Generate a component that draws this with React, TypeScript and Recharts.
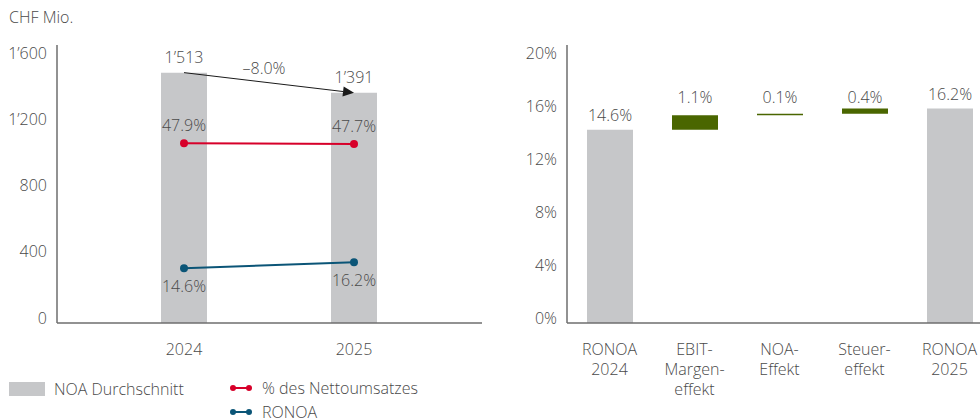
import React from 'react';
import { ComposedChart, BarChart, Bar, Line, XAxis, YAxis, LabelList, ReferenceLine } from 'recharts';

const years = ['2024', '2025'];
const noaAverage = [1513, 1391];
const netSalesShare = [47.9, 47.7];
const ronoa = [14.6, 16.2];
const noaChangeLabel = '–8.0%';
const leftTicks = [0, 400, 800, 1200, 1600];

const bridgeCategories = ['RONOA 2024', 'EBIT- Margen- effekt', 'NOA- Effekt', 'Steuer- effekt', 'RONOA 2025'];
const bridgeValues = [14.6, 1.1, 0.1, 0.4, 16.2];
const bridgeIsTotal = [true, false, false, false, true];
const rightTicks = [0, 4, 8, 12, 16, 20];

const FONT = '"Open Sans", sans-serif';
const FS = 16;
const FW = 300;
const TEXT = '#4a4a4a';
const AXIS = '#6e6e6e';
const GRAY = '#c6c7c9';
const GREEN = '#4a6600';
const RED = '#d7002a';
const BLUE = '#0b5577';

const fmtThousands = (n: number) => String(n).replace(/\B(?=(\d{3})+(?!\d))/g, '’');
const fmtPct = (n: number) => n.toFixed(1) + '%';

const leftData = years.map((year, i) => ({
  year,
  noa: noaAverage[i],
  share: netSalesShare[i],
  ronoa: ronoa[i],
}));

let running = 0;
const bridgeData = bridgeCategories.map((name, i) => {
  const v = bridgeValues[i];
  let row;
  if (bridgeIsTotal[i]) {
    row = { name, base: 0, total: v, effect: 0 };
    running = v;
  } else {
    row = { name, base: running, total: 0, effect: v };
    running = +(running + v).toFixed(1);
  }
  return row;
});

const effectLabelY = 97;

const txt = { fill: TEXT, fontSize: FS, fontFamily: FONT, fontWeight: FW };

const YTick = ({ x, y, payload, fmt }: any) => (
  <text x={x} y={y - 5} dy="0.355em" textAnchor="end" {...txt}>
    {fmt(payload.value)}
  </text>
);

const XTick = ({ x, y, payload }: any) => {
  const lines = String(payload.value).split(' ');
  return (
    <text x={x} y={y} textAnchor="middle" {...txt}>
      {lines.map((l, i) => (
        <tspan key={i} x={x} y={y + 32 + i * 20}>{l}</tspan>
      ))}
    </text>
  );
};

const ArrowShape = (props: any) => {
  const x1 = props.x1 ?? props.points?.[0]?.x;
  const y1 = props.y1 ?? props.points?.[0]?.y;
  const x2 = props.x2 ?? props.points?.[1]?.x;
  const y2 = props.y2 ?? props.points?.[1]?.y;
  if (x1 == null || x2 == null) return null;
  const ang = Math.atan2(y2 - y1, x2 - x1);
  const len = 11;
  const half = 5;
  const bx = x2 - len * Math.cos(ang);
  const by = y2 - len * Math.sin(ang);
  const px = -Math.sin(ang) * half;
  const py = Math.cos(ang) * half;
  return (
    <g>
      <line x1={x1} y1={y1} x2={bx} y2={by} stroke="#1a1a1a" strokeWidth={1} />
      <polygon points={`${x2},${y2} ${bx + px},${by + py} ${bx - px},${by - py}`} fill="#1a1a1a" />
      <text x={(x1 + x2) / 2 - 5} y={(y1 + y2) / 2 - 14} dy="0.355em" textAnchor="middle" {...txt}>
        {noaChangeLabel}
      </text>
    </g>
  );
};

const EffectLabel = (props: any) => {
  const { x, width, value } = props;
  if (!value) return null;
  return (
    <text x={x + width / 2} y={effectLabelY} dy="0.355em" textAnchor="middle" {...txt}>
      {fmtPct(value)}
    </text>
  );
};

const TotalLabel = (props: any) => {
  const { x, y, width, value } = props;
  if (!value) return null;
  return (
    <text x={x + width / 2} y={y - 9} textAnchor="middle" {...txt}>
      {fmtPct(value)}
    </text>
  );
};

const legendText: React.CSSProperties = {
  position: 'absolute',
  fontFamily: FONT,
  fontSize: FS,
  fontWeight: FW,
  color: TEXT,
  lineHeight: '20px',
  whiteSpace: 'nowrap',
};

const LineSwatch = ({ color, left, top }: { color: string; left: number; top: number }) => (
  <svg style={{ position: 'absolute', left, top }} width={24} height={10}>
    <line x1={4} y1={5} x2={20} y2={5} stroke={color} strokeWidth={2} />
    <circle cx={4} cy={5} r={3} fill={color} />
    <circle cx={20} cy={5} r={3} fill={color} />
  </svg>
);

export default function App() {
  return (
    <div style={{ position: 'absolute', left: 0, top: 0, width: 980, height: 419, overflow: 'hidden', background: '#fff' }}>
      <div style={{ ...legendText, left: 9, top: 7 }}>CHF Mio.</div>

      <div style={{ position: 'absolute', left: 0, top: 0 }}>
        <ComposedChart width={490} height={419} data={leftData} margin={{ top: 45, right: 8, bottom: 66, left: 0 }}>
          <XAxis
            dataKey="year"
            xAxisId="x"
            tickLine={false}
            tickSize={0}
            tickMargin={0}
            height={30}
            axisLine={{ stroke: AXIS, strokeWidth: 1.5 }}
            padding={{ left: 42, right: 43 }}
            tick={<XTick />}
          />
          <YAxis
            yAxisId="left"
            width={57}
            domain={[0, 1680]}
            ticks={leftTicks}
            tickLine={false}
            tickSize={0}
            tickMargin={10}
            axisLine={{ stroke: AXIS, strokeWidth: 1.5 }}
            tick={<YTick fmt={fmtThousands} />}
          />
          <YAxis yAxisId="pct" orientation="right" domain={[0, 74.1]} hide />
          <Bar dataKey="noa" xAxisId="x" yAxisId="left" fill={GRAY} barSize={46} isAnimationActive={false}>
            <LabelList dataKey="noa" position="top" offset={10} formatter={(v: any) => fmtThousands(v)} {...txt} />
          </Bar>
          <Line dataKey="share" xAxisId="x" yAxisId="pct" stroke={RED} strokeWidth={2} dot={{ r: 4, fill: RED, stroke: RED, strokeWidth: 0 }} isAnimationActive={false}>
            <LabelList dataKey="share" position="top" offset={12} formatter={(v: any) => fmtPct(v)} {...txt} />
          </Line>
          <Line dataKey="ronoa" xAxisId="x" yAxisId="pct" stroke={BLUE} strokeWidth={2} dot={{ r: 4, fill: BLUE, stroke: BLUE, strokeWidth: 0 }} isAnimationActive={false}>
            <LabelList dataKey="ronoa" position="bottom" offset={12} formatter={(v: any) => fmtPct(v)} {...txt} />
          </Line>
          <ReferenceLine
            xAxisId="x"
            yAxisId="left"
            segment={[{ x: years[0], y: noaAverage[0] }, { x: years[1], y: noaAverage[1] }]}
            shape={ArrowShape}
            ifOverflow="visible"
          />
        </ComposedChart>
      </div>

      <div style={{ position: 'absolute', left: 490, top: 0 }}>
        <BarChart width={510} height={419} data={bridgeData} margin={{ top: 45, right: 8, bottom: 66, left: 0 }} barCategoryGap={0}>
          <XAxis
            dataKey="name"
            tickLine={false}
            tickSize={0}
            tickMargin={0}
            height={30}
            interval={0}
            axisLine={{ stroke: AXIS, strokeWidth: 1.5 }}
            tick={<XTick />}
          />
          <YAxis
            width={77}
            domain={[0, 21]}
            ticks={rightTicks}
            tickLine={false}
            tickSize={0}
            tickMargin={10}
            axisLine={{ stroke: AXIS, strokeWidth: 1.5 }}
            tick={<YTick fmt={(v: number) => v + '%'} />}
          />
          <Bar dataKey="base" stackId="w" fill="transparent" barSize={46} isAnimationActive={false} />
          <Bar dataKey="total" stackId="w" fill={GRAY} barSize={46} isAnimationActive={false}>
            <LabelList dataKey="total" content={<TotalLabel />} />
          </Bar>
          <Bar dataKey="effect" stackId="w" fill={GREEN} barSize={46} isAnimationActive={false}>
            <LabelList dataKey="effect" content={<EffectLabel />} />
          </Bar>
        </BarChart>
      </div>

      <div style={{ position: 'absolute', left: 9, top: 382, width: 36, height: 14, background: GRAY }} />
      <div style={{ ...legendText, left: 54, top: 379 }}>NOA Durchschnitt</div>
      <LineSwatch color={RED} left={229} top={383} />
      <div style={{ ...legendText, left: 262, top: 378 }}>% des Nettoumsatzes</div>
      <LineSwatch color={BLUE} left={229} top={407} />
      <div style={{ ...legendText, left: 262, top: 402 }}>RONOA</div>
    </div>
  );
}
